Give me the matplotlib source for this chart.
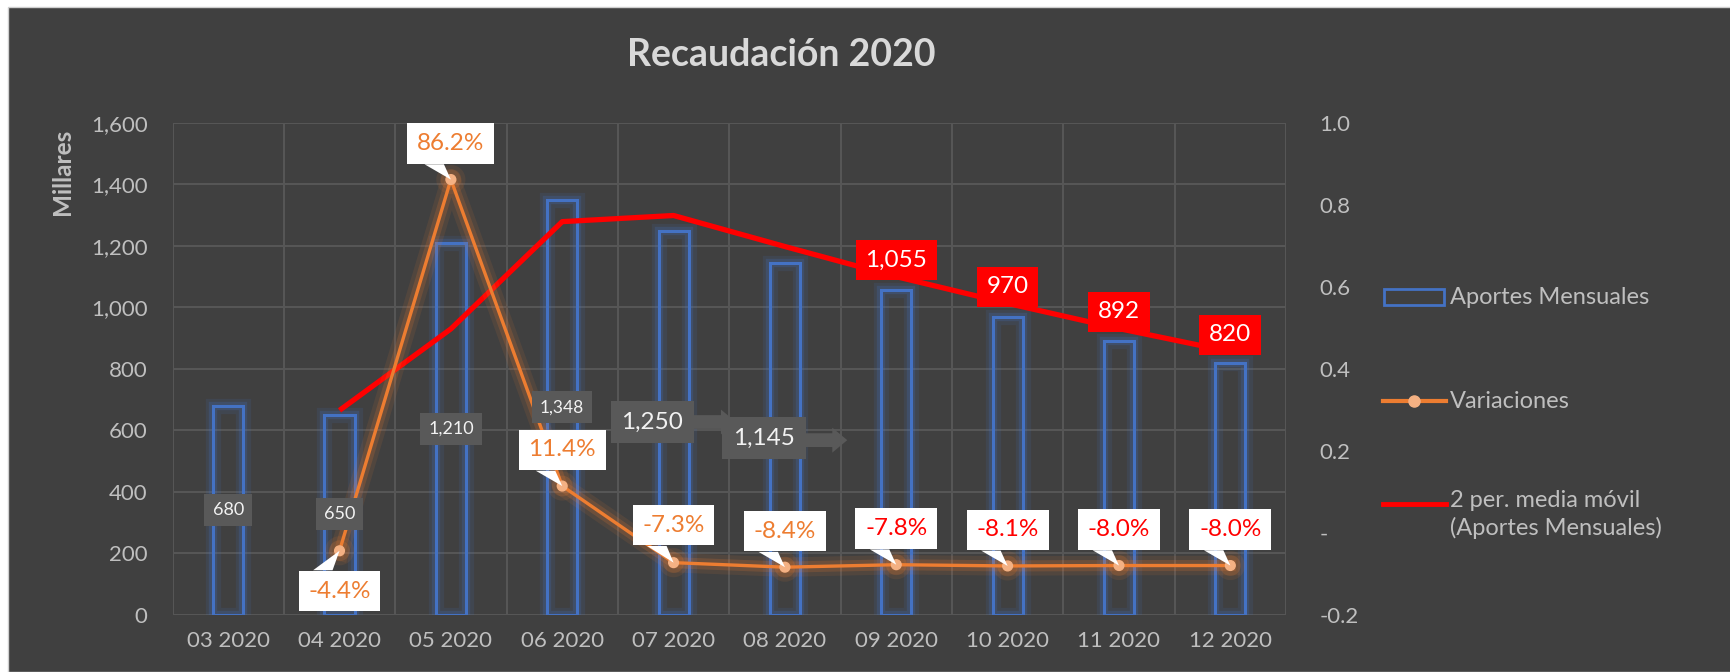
import matplotlib
matplotlib.use('Agg')
import numpy as np
import matplotlib.pyplot as plt
import matplotlib.patheffects as pe
from matplotlib.lines import Line2D
from matplotlib.patches import Rectangle, Polygon
from matplotlib.transforms import Affine2D, ScaledTranslation
from matplotlib.ticker import FuncFormatter, MultipleLocator

plt.rcParams['font.family'] = ['Lato', 'DejaVu Sans']

# ------------------------------------------------------------------
# data
# ------------------------------------------------------------------
meses = ['03 2020', '04 2020', '05 2020', '06 2020', '07 2020',
         '08 2020', '09 2020', '10 2020', '11 2020', '12 2020']
aportes = [680, 650, 1210, 1348, 1250, 1145, 1055, 970, 892, 820]
variaciones = [np.nan, -0.044, 0.862, 0.114, -0.073, -0.084, -0.078, -0.081, -0.080, -0.080]
media_movil = [np.nan, 665, 930, 1279, 1299, 1198, 1100, 1013, 931, 856]

# ------------------------------------------------------------------
# style / layout
# ------------------------------------------------------------------
W, H = 1731, 672
BG = '#404040'
GRID = '#575757'
TXT = '#bfbfbf'
BLUE = '#4472c4'
ORANGE = '#ed7d31'
RED = '#ff0000'
LABEL_BOX = '#595959'

# where the moved data labels of the bars sit (category, value)
gray_pos = [(0.0, 340), (1.0, 327), (2.0, 604), (3.0, 675), (3.81, 627), (4.81, 575)]
gray_size = [13, 13, 13, 12.5, 17.5, 17.5]
arrow_tips = {4: (4.56, 627), 5: (5.56, 568)}
var_offset = [None, -29, 26, 26, 27, 26, 26, 26, 26, 26]
var_color = [None, ORANGE, ORANGE, ORANGE, ORANGE, ORANGE, RED, RED, RED, RED]


def px(x, y):
    return x / W, 1 - y / H


fig = plt.figure(figsize=(W / 100, H / 100), dpi=100, facecolor='white')
fig.add_artist(Rectangle(px(8, H), 1, (H - 7) / H, transform=fig.transFigure,
                         facecolor=BG, edgecolor='#cfcfcf', lw=1, zorder=-10))

x = np.arange(len(meses))
left, right, top, bottom = 172.5, 1286, 123, 614.7
ax = fig.add_axes([left / W, 1 - bottom / H, (right - left) / W, (bottom - top) / H])
ax.set_facecolor('none')
ax2 = ax.twinx()

# bars (outlined, with glow)
bars = ax.bar(x, aportes, width=0.27, facecolor='none', edgecolor=BLUE, lw=2.2, zorder=3)
for b in bars:
    b.set_path_effects([pe.Stroke(linewidth=11, foreground=BLUE, alpha=0.12),
                        pe.Stroke(linewidth=6, foreground=BLUE, alpha=0.22),
                        pe.Normal()])

# moving average
ax.plot(x, media_movil, color=RED, lw=3.8, zorder=4, solid_capstyle='butt')

ax.set_xlim(-0.5, len(meses) - 0.5)
ax.set_ylim(0, 1600)
ax.yaxis.set_major_locator(MultipleLocator(200))
ax.yaxis.set_major_formatter(FuncFormatter(lambda v, p: f'{v:,.0f}'))
ax.set_xticks(x)
ax.set_xticklabels(meses)
ax.set_xticks(np.arange(-0.5, len(meses), 1), minor=True)
ax.grid(axis='y', which='major', color=GRID, lw=1.4)
ax.grid(axis='x', which='minor', color=GRID, lw=1.4)
ax.set_axisbelow(True)
ax.tick_params(axis='both', which='both', length=0, colors=TXT, labelsize=16)
ax.tick_params(axis='y', pad=18)
ax.tick_params(axis='x', pad=12)
for s in ax.spines.values():
    s.set_visible(False)

# variaciones (secondary axis)
ax2.plot(x, variaciones, color=ORANGE, lw=2.4, marker='o', markersize=7,
         markerfacecolor='#f4b183', markeredgecolor='#f4b183', zorder=5,
         path_effects=[pe.Stroke(linewidth=14, foreground=ORANGE, alpha=0.10),
                       pe.Stroke(linewidth=8, foreground=ORANGE, alpha=0.18),
                       pe.Normal()])
ax2.set_ylim(-0.2, 1.0)
ax2.yaxis.set_major_locator(MultipleLocator(0.2))
ax2.yaxis.set_major_formatter(FuncFormatter(lambda v, p: '-' if abs(v) < 1e-9 else f'{v:.1f}'))
ax2.tick_params(axis='y', length=0, colors=TXT, labelsize=16, pad=24)
for s in ax2.spines.values():
    s.set_visible(False)

# white callouts for variaciones (box + pointer triangle, in points around the marker)
pts_to_px = Affine2D().scale(1 / 72) + fig.dpi_scale_trans
for i, v in enumerate(variaciones):
    if np.isnan(v):
        continue
    off = var_offset[i]
    ax2.annotate(f'{v:.1%}', xy=(i, v), xytext=(0, off), textcoords='offset points',
                 ha='center', va='center', fontsize=17.5, color=var_color[i], zorder=8,
                 bbox=dict(boxstyle='square,pad=0.4', fc='white', ec='none'))
    edge = off - 15 if off > 0 else off + 15
    tri = Polygon([(-19, edge), (-5, edge), (0, 0)], closed=True,
                  transform=pts_to_px + ScaledTranslation(i, v, ax2.transData),
                  fc='white', ec='none', zorder=7.9, clip_on=False)
    ax2.add_artist(tri)

# gray labels of the bars (some with arrow shapes)
for i, (gx, gy) in enumerate(gray_pos):
    if i in arrow_tips:
        ax2.annotate('', xy=arrow_tips[i], xycoords=ax.transData,
                     xytext=(gx, arrow_tips[i][1]), textcoords=ax.transData,
                     arrowprops=dict(arrowstyle='simple,head_length=0.6,head_width=1.0,tail_width=0.55',
                                     fc=LABEL_BOX, ec='none', mutation_scale=18,
                                     shrinkA=0, shrinkB=0), zorder=6)
    ax2.annotate(f'{aportes[i]:,}', xy=(gx, gy), xycoords=ax.transData,
                 ha='center', va='center', fontsize=gray_size[i], color='#f2f2f2', zorder=7,
                 bbox=dict(boxstyle='square,pad=0.45', fc=LABEL_BOX, ec='none'))

# red labels riding the moving average
for i in range(6, len(meses)):
    ax2.annotate(f'{aportes[i]:,}', xy=(i, media_movil[i]), xycoords=ax.transData,
                 xytext=(0, 12), textcoords='offset points',
                 ha='center', va='center', fontsize=17.5, color='white', zorder=8,
                 bbox=dict(boxstyle='square,pad=0.4', fc=RED, ec='none'))

# title and axis title
fig.text(*px(781, 55), 'Recaudación 2020', ha='center', va='center',
         fontsize=27, fontweight='bold', color='#d9d9d9')
fig.text(*px(63, 172), 'Millares', ha='center', va='center', rotation=90,
         fontsize=17.5, fontweight='bold', color=TXT)

# legend drawn to the right, Excel style
fig.add_artist(Rectangle(px(1384, 305), 60 / W, 16 / H, transform=fig.transFigure,
                         fill=False, edgecolor=BLUE, lw=2))
fig.text(*px(1450, 297), 'Aportes Mensuales', va='center', fontsize=17, color=TXT)
fig.add_artist(Line2D([1383 / W, 1446 / W], [1 - 401 / H] * 2, transform=fig.transFigure,
                      color=ORANGE, lw=3))
fig.add_artist(Line2D([1414.5 / W], [1 - 401 / H], transform=fig.transFigure,
                      marker='o', markersize=8, color='#f4b183'))
fig.text(*px(1450, 401), 'Variaciones', va='center', fontsize=17, color=TXT)
fig.add_artist(Line2D([1383 / W, 1446 / W], [1 - 504 / H] * 2, transform=fig.transFigure,
                      color=RED, lw=3.5))
fig.text(*px(1450, 490), '2 per. media móvil\n(Aportes Mensuales)', va='top',
         fontsize=17, color=TXT, linespacing=1.3)

fig.savefig('out.png', dpi=100, facecolor=fig.get_facecolor())
